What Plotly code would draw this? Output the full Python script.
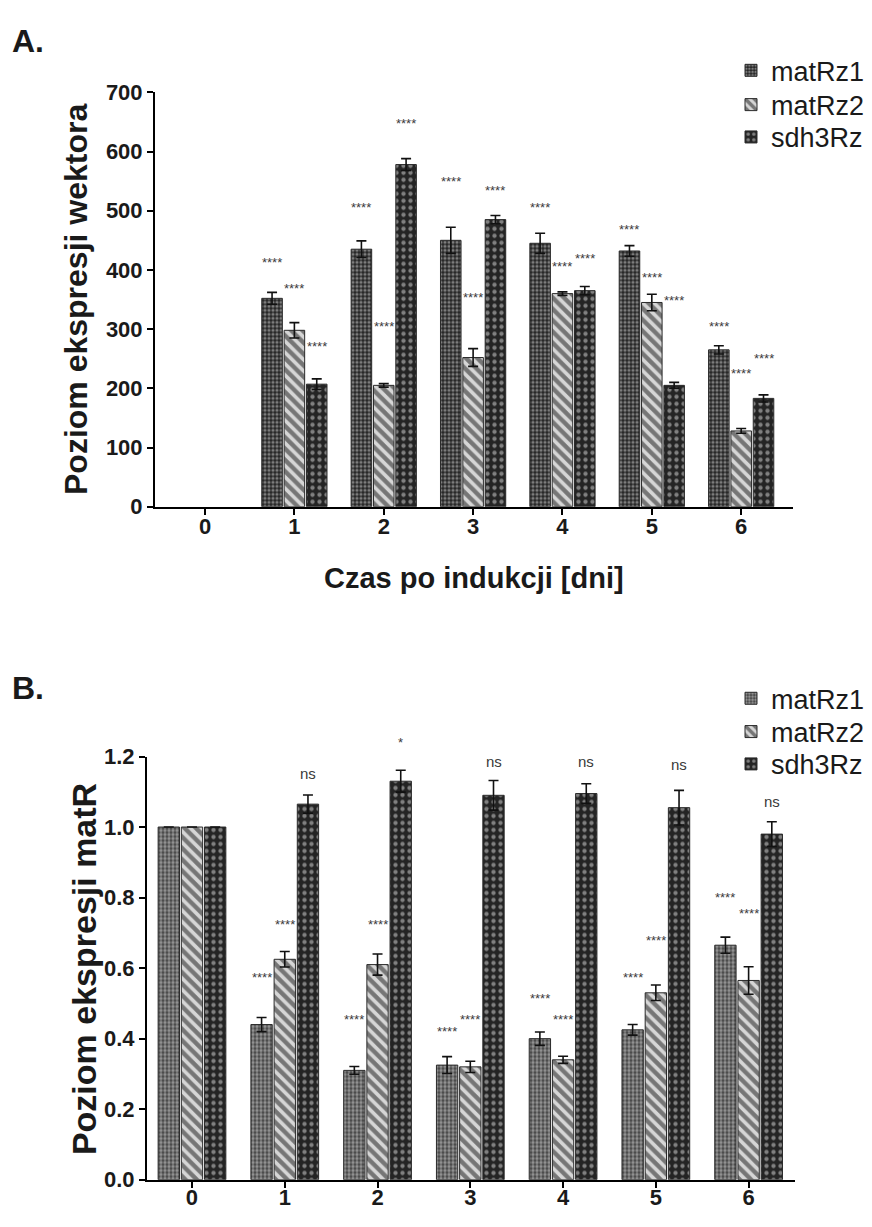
import plotly.graph_objects as go

# ---------------- data ----------------
days = [0, 1, 2, 3, 4, 5, 6]
series = ["matRz1", "matRz2", "sdh3Rz"]

# Panel A: vector expression level
vec_matRz1 = [0, 352, 435, 450, 445, 432, 265]
vec_matRz2 = [0, 298, 205, 252, 360, 345, 128]
vec_sdh3Rz = [0, 207, 578, 485, 365, 205, 183]
vec_err_matRz1 = [None, 10, 14, 22, 17, 9, 7]
vec_err_matRz2 = [None, 13, 3, 15, 3, 14, 4]
vec_err_sdh3Rz = [None, 9, 10, 7, 7, 5, 6]
vec_sig_matRz1 = ["", "****", "****", "****", "****", "****", "****"]
vec_sig_matRz2 = ["", "****", "****", "****", "****", "****", "****"]
vec_sig_sdh3Rz = ["", "****", "****", "****", "****", "****", "****"]
vec_sig_y_matRz1 = [None, 412, 505, 550, 505, 468, 305]
vec_sig_y_matRz2 = [None, 368, 305, 353, 405, 387, 225]
vec_sig_y_sdh3Rz = [None, 270, 648, 535, 420, 349, 250]

# Panel B: matR expression level
mat_matRz1 = [1.0, 0.44, 0.31, 0.325, 0.40, 0.425, 0.665]
mat_matRz2 = [1.0, 0.625, 0.61, 0.32, 0.34, 0.53, 0.565]
mat_sdh3Rz = [1.0, 1.065, 1.13, 1.09, 1.095, 1.055, 0.98]
mat_err_matRz1 = [None, 0.02, 0.011, 0.024, 0.019, 0.015, 0.023]
mat_err_matRz2 = [None, 0.022, 0.03, 0.016, 0.01, 0.022, 0.039]
mat_err_sdh3Rz = [None, 0.026, 0.031, 0.042, 0.028, 0.049, 0.035]
mat_sig_matRz1 = ["", "****", "****", "****", "****", "****", "****"]
mat_sig_matRz2 = ["", "****", "****", "****", "****", "****", "****"]
mat_sig_sdh3Rz = ["", "ns", "*", "ns", "ns", "ns", "ns"]
mat_sig_y_matRz1 = [None, 0.572, 0.455, 0.42, 0.514, 0.572, 0.80]
mat_sig_y_matRz2 = [None, 0.723, 0.723, 0.455, 0.455, 0.678, 0.754]
mat_sig_y_sdh3Rz = [None, 1.151, 1.239, 1.186, 1.186, 1.178, 1.072]

# ---------------- styling ----------------
W, H = 872, 1227
FONT = "Liberation Sans, Arial, sans-serif"
TXT = "#1a1a1a"


def px_x(p):
    return p / W


def px_y(p):
    return 1 - p / H


patterns_a = [
    dict(shape=".", fgcolor="#d4d4d4", bgcolor="#262626", size=4, solidity=0.5),
    dict(shape="\\", fgcolor="#161616", bgcolor="#d6d6d6", size=8, solidity=0.55),
    dict(shape=".", fgcolor="#dcdcdc", bgcolor="#242424", size=7, solidity=0.3),
]
patterns_b = [
    dict(shape=".", fgcolor="#dedede", bgcolor="#454545", size=4, solidity=0.55),
    dict(shape="\\", fgcolor="#161616", bgcolor="#d6d6d6", size=8, solidity=0.55),
    dict(shape=".", fgcolor="#dcdcdc", bgcolor="#242424", size=7, solidity=0.3),
]

offsets = [-0.25, 0.0, 0.25]

# plot areas (pixel boxes) and axis ranges for each panel
panels = {
    "a": dict(x=(155, 793), y=(505, 82), xr=[-0.56, 6.58], yr=[0, 700],
              xa="x", ya="y"),
    "b": dict(x=(147, 795), y=(1192, 760), xr=[-0.485, 6.5], yr=[0, 1.2],
              xa="x2", ya="y2"),
}
legend_rows = {"a": [60, 95, 128], "b": [701, 735, 768]}

data_a = [
    (vec_matRz1, vec_err_matRz1, vec_sig_matRz1, vec_sig_y_matRz1),
    (vec_matRz2, vec_err_matRz2, vec_sig_matRz2, vec_sig_y_matRz2),
    (vec_sdh3Rz, vec_err_sdh3Rz, vec_sig_sdh3Rz, vec_sig_y_sdh3Rz),
]
data_b = [
    (mat_matRz1, mat_err_matRz1, mat_sig_matRz1, mat_sig_y_matRz1),
    (mat_matRz2, mat_err_matRz2, mat_sig_matRz2, mat_sig_y_matRz2),
    (mat_sdh3Rz, mat_err_sdh3Rz, mat_sig_sdh3Rz, mat_sig_y_sdh3Rz),
]

fig = go.Figure()
annotations = []
legends = {}
leg_idx = 0

for key, pdata, pats in [("a", data_a, patterns_a), ("b", data_b, patterns_b)]:
    p = panels[key]
    y_lo, y_hi = px_y(p["y"][0]), px_y(p["y"][1])
    for i, (vals, errs, sigs, sig_y) in enumerate(pdata):
        pat = pats[i]
        leg_idx += 1
        leg_name = "legend" if leg_idx == 1 else f"legend{leg_idx}"
        legends[leg_name] = dict(
            x=px_x(731), y=px_y(legend_rows[key][i]),
            xanchor="left", yanchor="middle", bgcolor="rgba(0,0,0,0)",
            font=dict(family=FONT, size=27, color=TXT),
        )
        # zero-height entries are left empty so no outline stub is drawn
        shown = [v if v else None for v in vals]
        fig.add_trace(go.Bar(
            x=days, y=shown, name=series[i],
            xaxis=p["xa"], yaxis=p["ya"], legend=leg_name,
            marker=dict(color=pat["bgcolor"], pattern=pat,
                        line=dict(color="#2a2a2a", width=1)),
            error_y=dict(type="data", array=errs, visible=True,
                         color="#111111", thickness=1.6, width=5),
        ))
        # significance labels; heights mapped to paper space so labels above
        # the axis top are still drawn
        for d, s, sy in zip(days, sigs, sig_y):
            if not s or sy is None:
                continue
            frac = (sy - p["yr"][0]) / (p["yr"][1] - p["yr"][0])
            is_ns = s == "ns"
            annotations.append(dict(
                x=d + offsets[i], xref=p["xa"],
                y=y_lo + frac * (y_hi - y_lo), yref="paper",
                text=s, showarrow=False, xanchor="center", yanchor="middle",
                font=dict(family=FONT, size=15 if is_ns else 13,
                          color="#3a3a3a"),
            ))

axis_common = dict(
    showline=True, linecolor="black", linewidth=2,
    ticks="outside", ticklen=6, tickwidth=2, tickcolor="black",
    showgrid=False, zeroline=False,
    tickfont=dict(family=FONT, size=22, color=TXT, weight="bold"),
)

pa, pb = panels["a"], panels["b"]
fig.update_layout(
    width=W, height=H,
    margin=dict(l=0, r=0, t=0, b=0),
    paper_bgcolor="white", plot_bgcolor="white",
    barmode="group", bargap=0.25, bargroupgap=0.08,
    xaxis=dict(domain=[px_x(pa["x"][0]), px_x(pa["x"][1])], anchor="y",
               range=pa["xr"], tickvals=days, ticklabelstandoff=-7,
               **axis_common),
    yaxis=dict(domain=[px_y(pa["y"][0]), px_y(pa["y"][1])], anchor="x",
               range=pa["yr"], dtick=100, **axis_common),
    xaxis2=dict(domain=[px_x(pb["x"][0]), px_x(pb["x"][1])], anchor="y2",
                range=pb["xr"], tickvals=days, ticklabelstandoff=-9,
                **axis_common),
    yaxis2=dict(domain=[px_y(pb["y"][0]), px_y(pb["y"][1])], anchor="x2",
                range=pb["yr"], dtick=0.2, tickformat=".1f", **axis_common),
    showlegend=True,
    **legends,
)

annotations += [
    dict(text="A.", x=px_x(10), y=px_y(30), xref="paper", yref="paper",
         xanchor="left", yanchor="middle", showarrow=False,
         font=dict(family=FONT, size=32, color=TXT, weight="bold")),
    dict(text="B.", x=px_x(10), y=px_y(690), xref="paper", yref="paper",
         xanchor="left", yanchor="middle", showarrow=False,
         font=dict(family=FONT, size=32, color=TXT, weight="bold")),
    dict(text="Poziom ekspresji wektora", x=px_x(76), y=px_y(294),
         xref="paper", yref="paper", textangle=-90, showarrow=False,
         xanchor="center", yanchor="middle",
         font=dict(family=FONT, size=32, color=TXT, weight="bold")),
    dict(text="Czas po indukcji [dni]", x=px_x(474), y=px_y(578),
         xref="paper", yref="paper", showarrow=False,
         xanchor="center", yanchor="middle",
         font=dict(family=FONT, size=29, color=TXT, weight="bold")),
    dict(text="Poziom ekspresji matR", x=px_x(84), y=px_y(977),
         xref="paper", yref="paper", textangle=-90, showarrow=False,
         xanchor="center", yanchor="middle",
         font=dict(family=FONT, size=34, color=TXT, weight="bold")),
]
fig.update_layout(annotations=annotations)

fig.write_html("out.html")
